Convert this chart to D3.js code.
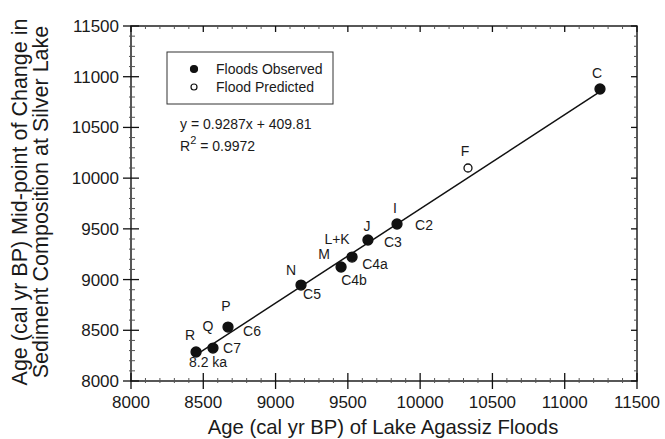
<!DOCTYPE html>
<html>
<head>
<meta charset="utf-8">
<script src="https://cdn.jsdelivr.net/npm/d3@7"></script>
<style>
  body { margin: 0; background: #fff; }
  text { font-family: "Liberation Sans", Arial, sans-serif; fill: #1a1a1a; }
</style>
</head>
<body>
<div id="chart"></div>
<script>
// flood ages (Lake Agassiz) vs Silver Lake mid-point ages
var names = ["R", "Q", "P", "N", "M", "L+K", "J", "I", "F", "C"];
var codes = ["8.2 ka", "C7", "C6", "C5", "C4b", "C4a", "C3", "C2", "", ""];
var floodAge = [8450, 8567, 8671, 9176, 9453, 9529, 9639, 9840, 10331, 11244];
var lakeAge = [8286, 8325, 8532, 8946, 9124, 9222, 9390, 9548, 10100, 10879];
var observed = [true, true, true, true, true, true, true, true, false, true];
var ticks = [8000, 8500, 9000, 9500, 10000, 10500, 11000, 11500];
var slope = 0.9287, intercept = 409.81;

// label offsets relative to point (name, code)
var nameOff = [[-6, -12], [-5, -17], [-2, -16], [-10, -10], [-17, -8], [-15, -13], [-1, -9], [-2, -11], [-3, -12], [-3, -11]];
var codeOff = [[12, 15], [19, 5], [24, 9], [11, 14], [13, 18], [23, 12], [25, 7], [27, 6], [0, 0], [0, 0]];

var width = 665, height = 439;
var margin = { top: 26, right: 28, bottom: 58, left: 131 };
var w = width - margin.left - margin.right,
    h = height - margin.top - margin.bottom;

var svg = d3.select("#chart")
    .append("svg")
    .attr("width", width)
    .attr("height", height);

var g = svg.append("g")
    .attr("transform", "translate(" + margin.left + "," + margin.top + ")");

var x = d3.scaleLinear().domain([8000, 11500]).range([0, w]);
var y = d3.scaleLinear().domain([8000, 11500]).range([h, 0]);

var minor = d3.range(8000, 11501, 100).filter(function (v) { return v % 500 != 0; });

// frame
g.append("rect")
    .attr("width", w).attr("height", h)
    .attr("fill", "none").attr("stroke", "#111").attr("stroke-width", 1.4);

// bottom axis
g.selectAll(".xmaj").data(ticks).enter().append("line")
    .attr("x1", function (d) { return x(d); }).attr("x2", function (d) { return x(d); })
    .attr("y1", h - 8).attr("y2", h + 8)
    .attr("stroke", "#111").attr("stroke-width", 1.3);
g.selectAll(".xmin").data(minor).enter().append("line")
    .attr("x1", function (d) { return x(d); }).attr("x2", function (d) { return x(d); })
    .attr("y1", h - 3).attr("y2", h + 2)
    .attr("stroke", "#555").attr("stroke-width", 1);
// top axis
g.selectAll(".xtmaj").data(ticks).enter().append("line")
    .attr("x1", function (d) { return x(d); }).attr("x2", function (d) { return x(d); })
    .attr("y1", 0).attr("y2", 6)
    .attr("stroke", "#111").attr("stroke-width", 1.3);
g.selectAll(".xtmin").data(minor).enter().append("line")
    .attr("x1", function (d) { return x(d); }).attr("x2", function (d) { return x(d); })
    .attr("y1", 0).attr("y2", 3)
    .attr("stroke", "#555").attr("stroke-width", 1);
// left axis
g.selectAll(".ymaj").data(ticks).enter().append("line")
    .attr("y1", function (d) { return y(d); }).attr("y2", function (d) { return y(d); })
    .attr("x1", -8).attr("x2", 8)
    .attr("stroke", "#111").attr("stroke-width", 1.3);
g.selectAll(".ymin").data(minor).enter().append("line")
    .attr("y1", function (d) { return y(d); }).attr("y2", function (d) { return y(d); })
    .attr("x1", -2).attr("x2", 4)
    .attr("stroke", "#555").attr("stroke-width", 1);
// right axis
g.selectAll(".yrmaj").data(ticks).enter().append("line")
    .attr("y1", function (d) { return y(d); }).attr("y2", function (d) { return y(d); })
    .attr("x1", w - 6).attr("x2", w)
    .attr("stroke", "#111").attr("stroke-width", 1.3);
g.selectAll(".yrmin").data(minor).enter().append("line")
    .attr("y1", function (d) { return y(d); }).attr("y2", function (d) { return y(d); })
    .attr("x1", w - 3).attr("x2", w)
    .attr("stroke", "#555").attr("stroke-width", 1);

// tick labels
g.selectAll(".xlab").data(ticks).enter().append("text")
    .attr("x", function (d) { return x(d); })
    .attr("y", h + 27)
    .attr("text-anchor", "middle")
    .style("font-size", "17px")
    .text(function (d) { return d; });
g.selectAll(".ylab").data(ticks).enter().append("text")
    .attr("x", -12)
    .attr("y", function (d) { return y(d) + 6; })
    .attr("text-anchor", "end")
    .style("font-size", "17px")
    .text(function (d) { return d; });

// axis titles
svg.append("text")
    .attr("x", margin.left + w / 2 - 1)
    .attr("y", 434)
    .attr("text-anchor", "middle")
    .style("font-size", "20.3px")
    .text("Age (cal yr BP) of Lake Agassiz Floods");
svg.append("text")
    .attr("transform", "translate(27,202) rotate(-90)")
    .attr("text-anchor", "middle")
    .style("font-size", "21.5px")
    .text("Age (cal yr BP) Mid-point of Change in");
svg.append("text")
    .attr("transform", "translate(48,202) rotate(-90)")
    .attr("text-anchor", "middle")
    .style("font-size", "21.5px")
    .text("Sediment Composition at Silver Lake");

// regression line
var x0 = d3.min(floodAge), x1 = d3.max(floodAge);
g.append("line")
    .attr("x1", x(x0)).attr("y1", y(slope * x0 + intercept))
    .attr("x2", x(x1)).attr("y2", y(slope * x1 + intercept))
    .attr("stroke", "#111").attr("stroke-width", 1.5);

// points
var pts = d3.range(floodAge.length);
g.selectAll(".pt").data(pts).enter().append("circle")
    .attr("cx", function (i) { return x(floodAge[i]); })
    .attr("cy", function (i) { return y(lakeAge[i]); })
    .attr("r", function (i) { return observed[i] ? 5 : 4; })
    .attr("fill", function (i) { return observed[i] ? "#111" : "#fff"; })
    .attr("stroke", "#111").attr("stroke-width", 1.3);

g.selectAll(".nm").data(pts).enter().append("text")
    .attr("x", function (i) { return x(floodAge[i]) + nameOff[i][0]; })
    .attr("y", function (i) { return y(lakeAge[i]) + nameOff[i][1]; })
    .attr("text-anchor", "middle")
    .style("font-size", "14px")
    .text(function (i) { return names[i]; });
g.selectAll(".cd").data(pts).enter().append("text")
    .attr("x", function (i) { return x(floodAge[i]) + codeOff[i][0]; })
    .attr("y", function (i) { return y(lakeAge[i]) + codeOff[i][1]; })
    .attr("text-anchor", "middle")
    .style("font-size", "14px")
    .text(function (i) { return codes[i]; });

// legend
var lg = svg.append("g");
lg.append("rect")
    .attr("x", 167).attr("y", 52).attr("width", 166).attr("height", 52)
    .attr("fill", "#fff").attr("stroke", "#333").attr("stroke-width", 1);
var legLabels = ["Floods Observed", "Flood Predicted"];
var legFill = ["#111", "#fff"];
legLabels.forEach(function (t, i) {
    lg.append("circle")
        .attr("cx", 194).attr("cy", 69 + i * 18)
        .attr("r", i == 0 ? 3.5 : 3)
        .attr("fill", legFill[i]).attr("stroke", "#111").attr("stroke-width", 1.2);
    lg.append("text")
        .attr("x", 216).attr("y", 74 + i * 18)
        .style("font-size", "14px")
        .text(t);
});

// equation
svg.append("text")
    .attr("x", 180).attr("y", 129)
    .style("font-size", "14px")
    .text("y = 0.9287x + 409.81");
var r2 = svg.append("text")
    .attr("x", 180).attr("y", 151)
    .style("font-size", "14px");
r2.append("tspan").text("R");
r2.append("tspan").attr("dy", -7).style("font-size", "11px").text("2");
r2.append("tspan").attr("dy", 7).text(" = 0.9972");
</script>
</body>
</html>
